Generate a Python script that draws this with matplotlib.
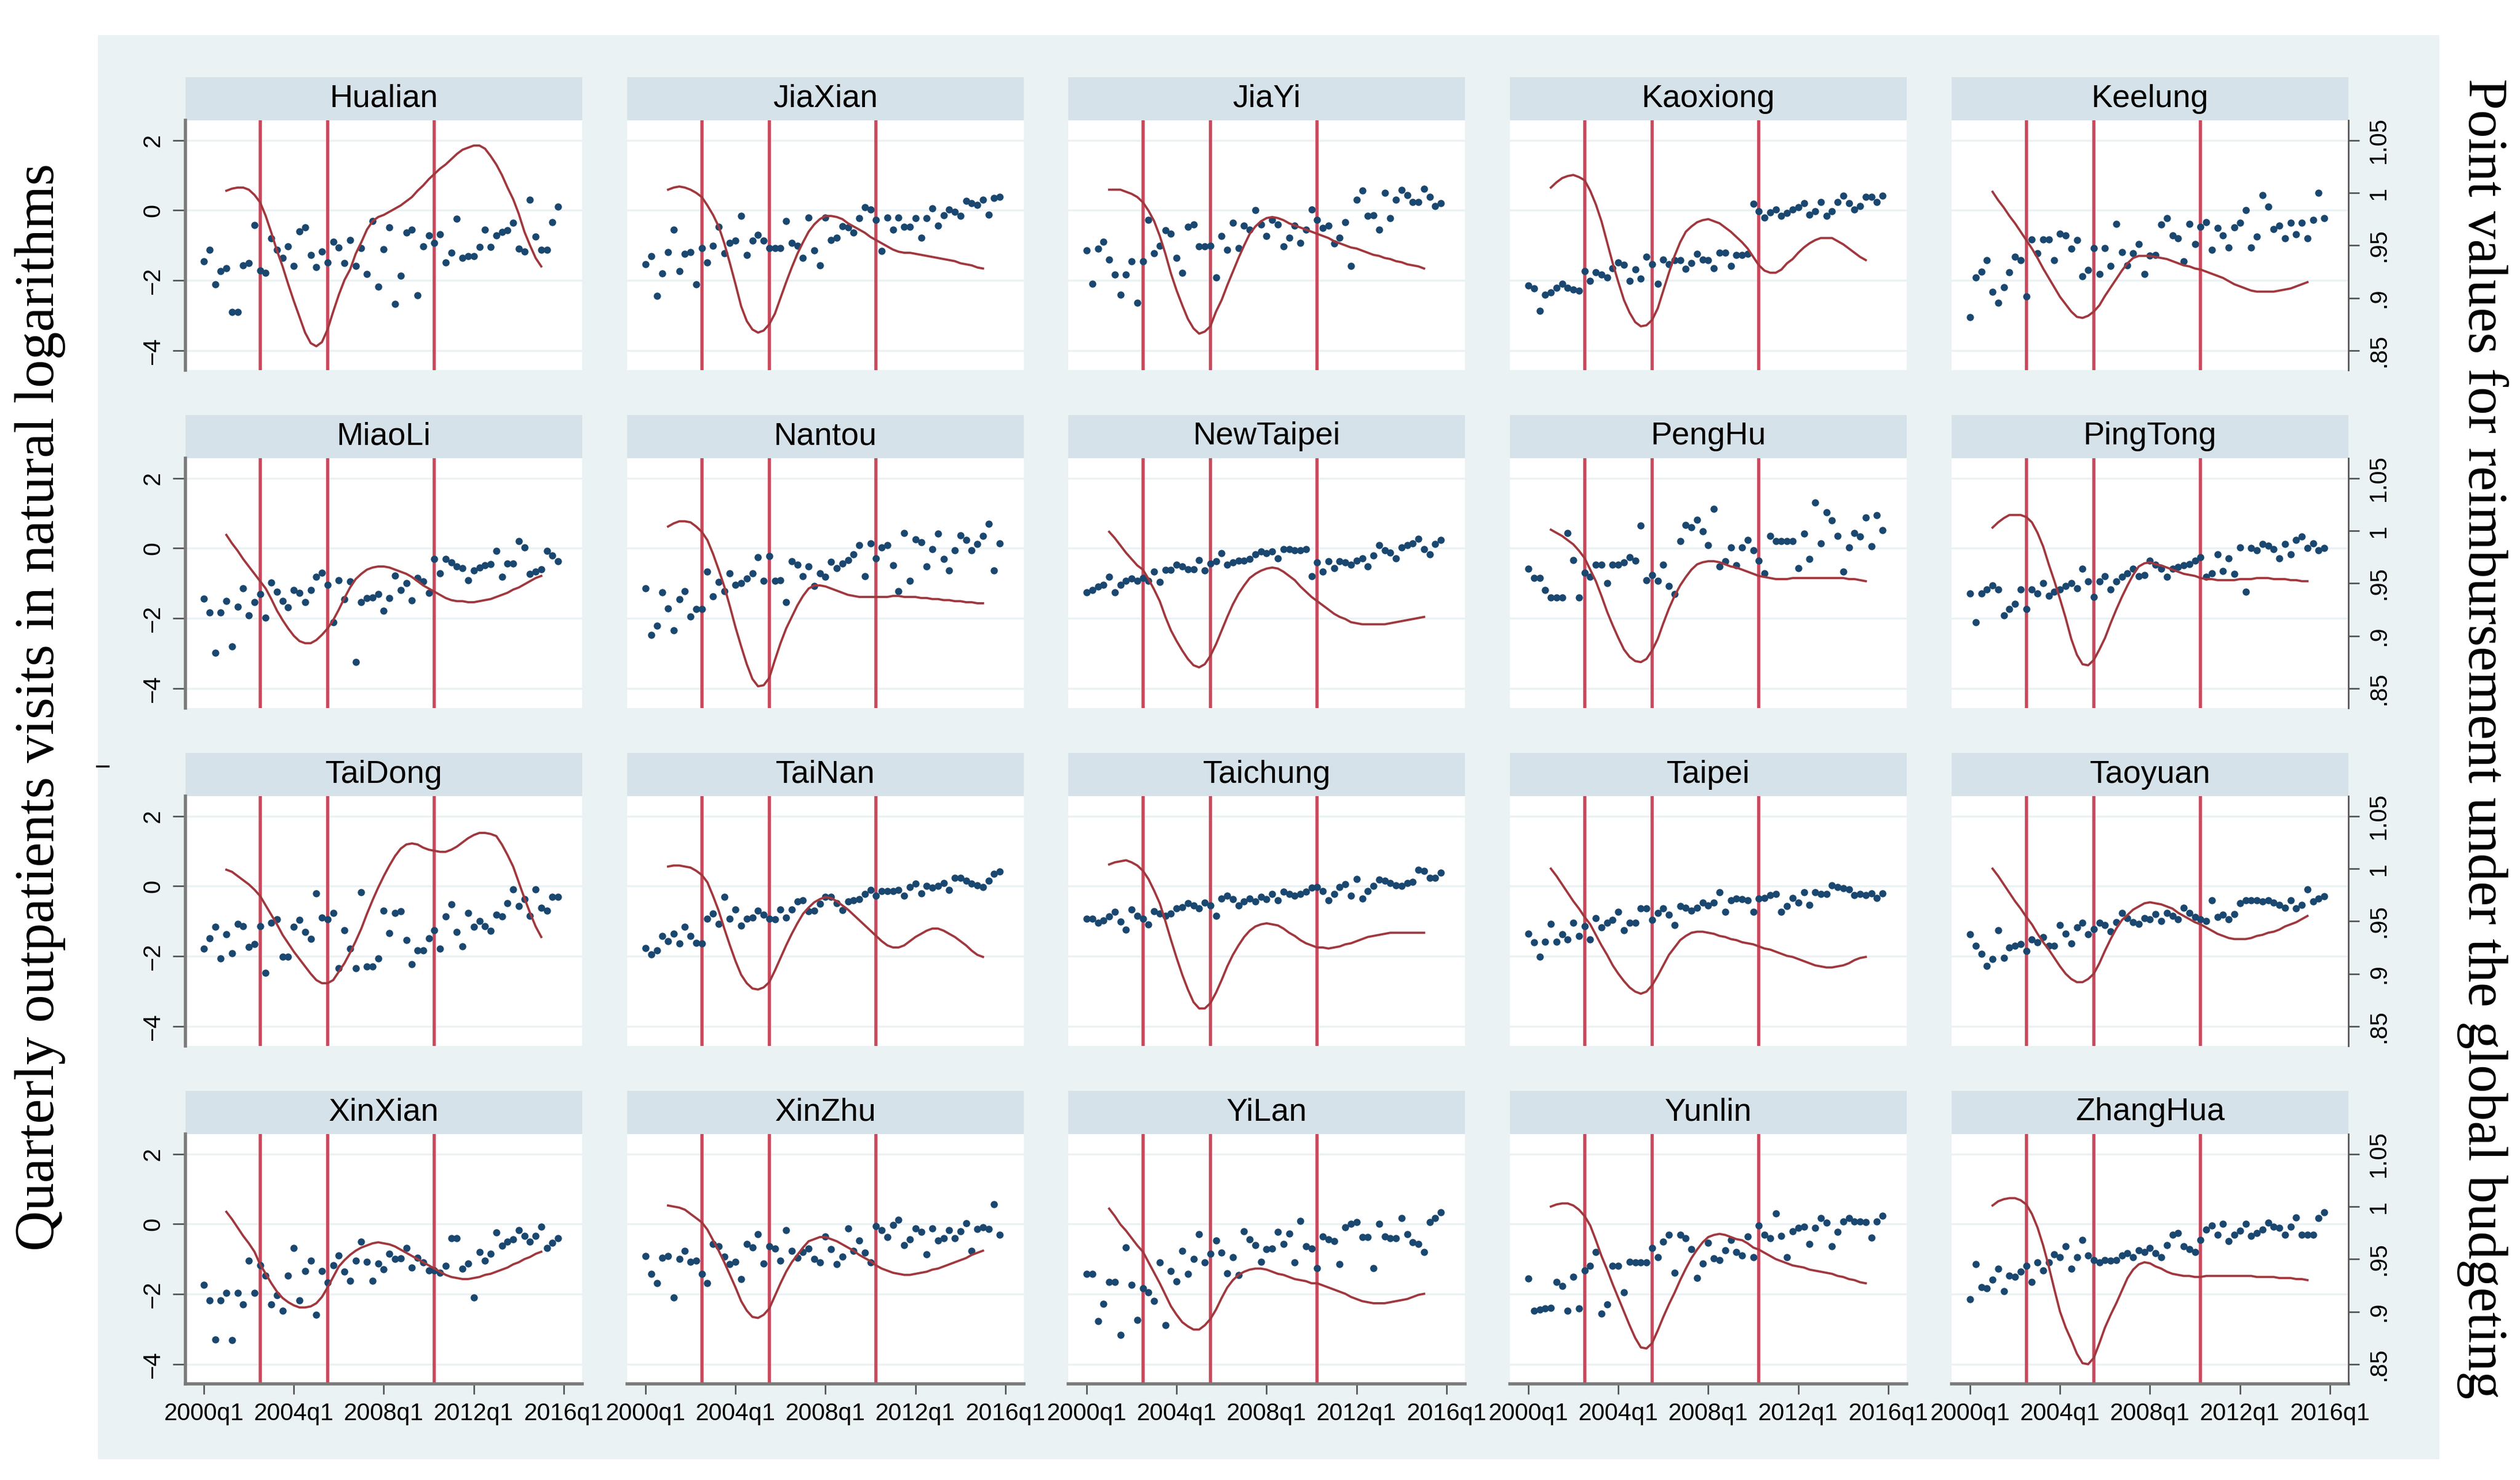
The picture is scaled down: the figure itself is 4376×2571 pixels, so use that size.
import numpy as np
import matplotlib
matplotlib.use("Agg")
import matplotlib.pyplot as plt
from matplotlib.patches import Rectangle
from matplotlib.lines import Line2D

plt.rcParams["font.family"] = ["Liberation Sans", "DejaVu Sans"]
SERIF = ["Liberation Serif", "DejaVu Serif"]

W, H = 4376, 2571

NAVY = "#1a476f"
VLINE = "#c9485b"
CURVE = "#a0383e"
REGION_BG = "#eaf2f3"
STRIP_BG = "#d6e2e9"
GRID = "#eaf2f3"
AXIS = "#7a7a7a"

# reform dates (quarters as fractional years)
reform_dates = [2002.5, 2005.5, 2010.25]
x_ticks = [2000, 2004, 2008, 2012, 2016]
x_labels = ["2000q1", "2004q1", "2008q1", "2012q1", "2016q1"]
left_ticks = [-4, -2, 0, 2]
right_ticks = [0.85, 0.9, 0.95, 1.0, 1.05]
right_labels = [".85", ".9", ".95", "1", "1.05"]

# quarterly outpatient visits (log), 2000q1 .. 2015q4
hualian_visits = [-1.46, -1.12, -2.11, -1.73, -1.65, -2.9, -2.9, -1.57, -1.5, -0.42,
                  -1.71, -1.79, -0.79, -1.12, -1.35, -1.02, -1.58, -0.6, -0.49, -1.28,
                  -1.62, -1.18, -1.48, -0.9, -1.06, -1.51, -0.84, -1.58, -1.07, -1.81,
                  -0.3, -2.17, -1.11, -0.49, -2.67, -1.87, -0.63, -0.55, -2.42, -1.02,
                  -0.72, -0.93, -0.69, -1.48, -1.21, -0.24, -1.35, -1.31, -1.31, -1.04,
                  -0.55, -1.04, -0.72, -0.62, -0.57, -0.36, -1.1, -1.18, 0.31, -0.75,
                  -1.13, -1.13, -0.33, 0.11]
jiaxian_visits = [-1.53, -1.3, -2.44, -1.8, -1.19, -0.55, -1.74, -1.24, -1.19, -2.12,
                  -1.07, -1.48, -1.01, -0.47, -1.22, -0.93, -0.87, -0.16, -1.28, -0.87,
                  -0.7, -0.87, -1.07, -1.07, -1.07, -0.31, -0.93, -1.01, -1.36, -0.2,
                  -1.15, -1.57, -0.2, -0.84, -0.78, -0.45, -0.49, -0.64, -0.23, 0.09,
                  0.03, -0.28, -1.16, -0.2, -0.55, -0.2, -0.47, -0.47, -0.22, -0.78,
                  -0.22, 0.06, -0.43, -0.14, 0.03, -0.05, -0.16, 0.27, 0.21, 0.15,
                  0.3, -0.12, 0.35, 0.38]
jiayi_visits = [-1.15, -2.09, -1.09, -0.9, -1.4, -1.83, -2.41, -1.83, -1.45, -2.64,
                -1.45, -0.28, -1.22, -1.01, -0.57, -0.66, -1.36, -1.79, -0.47, -0.4,
                -1.03, -1.03, -1.01, -1.91, -0.74, -1.13, -0.35, -1.07, -0.43, -0.55,
                0.01, -0.4, -0.74, -0.28, -0.4, -1.03, -0.78, -0.43, -0.93, -0.55,
                0.03, -0.28, -0.51, -0.43, -0.95, -0.78, -0.34, -1.59, 0.3, 0.56,
                -0.16, -0.14, -0.55, 0.5, -0.23, 0.3, 0.58, 0.44, 0.23, 0.23,
                0.62, 0.38, 0.12, 0.21]
kaoxiong_visits = [-2.14, -2.23, -2.87, -2.41, -2.35, -2.21, -2.09, -2.21, -2.26, -2.29,
                   -1.74, -2.02, -1.77, -1.83, -1.91, -1.65, -1.48, -1.56, -2.02, -1.69,
                   -1.94, -1.33, -1.53, -2.09, -1.4, -1.53, -1.42, -1.42, -1.67, -1.51,
                   -1.24, -1.4, -1.42, -1.65, -1.21, -1.21, -1.59, -1.28, -1.28, -1.24,
                   0.19, -0.02, -0.2, -0.06, 0.03, -0.16, -0.08, 0.03, 0.09, 0.21,
                   -0.12, -0.02, 0.23, -0.16, -0.02, 0.23, 0.42, 0.21, 0.03, 0.12,
                   0.38, 0.38, 0.23, 0.42]
keelung_visits = [-3.05, -1.92, -1.75, -1.42, -2.33, -2.63, -2.2, -1.76, -1.32, -1.43,
                  -2.45, -0.83, -1.23, -0.83, -0.83, -1.42, -0.66, -0.72, -1.1, -0.85,
                  -1.89, -1.7, -1.07, -1.81, -1.07, -1.58, -0.39, -1.19, -1.57, -1.23,
                  -0.97, -1.82, -1.29, -1.28, -0.41, -0.22, -0.71, -0.79, -1.45, -0.38,
                  -0.97, -0.47, -0.33, -1.13, -0.5, -0.72, -1.06, -0.49, -0.35, 0.0,
                  -1.06, -0.75, 0.44, 0.11, -0.53, -0.44, -0.79, -0.36, -0.69, -0.35,
                  -0.79, -0.28, 0.5, -0.22]
miaoli_visits = [-1.44, -1.83, -2.99, -1.83, -1.51, -2.81, -1.67, -1.15, -1.92, -1.53,
                 -1.3, -1.98, -0.98, -1.24, -1.51, -1.69, -1.19, -1.28, -1.53, -1.19,
                 -0.81, -0.7, -1.05, -2.12, -0.92, -1.45, -0.95, -3.24, -1.53, -1.42,
                 -1.4, -1.3, -1.79, -1.42, -0.78, -1.19, -0.99, -1.48, -0.84, -0.95,
                 -1.27, -0.31, -0.72, -0.31, -0.4, -0.52, -0.57, -0.92, -0.64, -0.55,
                 -0.49, -0.45, -0.08, -0.81, -0.43, -0.43, 0.21, 0.03, -0.74, -0.66,
                 -0.6, -0.08, -0.2, -0.37]
nantou_visits = [-1.14, -2.47, -2.21, -1.26, -1.72, -2.35, -1.45, -1.22, -1.95, -1.74,
                 -1.74, -0.67, -1.37, -0.97, -1.22, -0.72, -1.05, -0.99, -0.87, -0.72,
                 -0.26, -0.93, -0.23, -0.93, -0.91, -1.53, -0.37, -0.47, -0.79, -0.52,
                 -1.07, -0.72, -0.81, -0.38, -0.56, -0.44, -0.33, -0.17, 0.09, -0.79,
                 0.14, -0.29, 0.02, 0.09, -0.49, -1.22, 0.44, -0.93, 0.26, 0.17,
                 -0.52, -0.03, 0.41, -0.31, -0.64, -0.06, 0.37, 0.23, -0.06, 0.12,
                 0.35, 0.7, -0.64, 0.14]
newtaipei_visits = [-1.26, -1.19, -1.1, -1.05, -0.81, -1.26, -1.05, -0.93, -0.87, -0.93,
                    -0.84, -0.93, -0.66, -0.97, -0.62, -0.62, -0.47, -0.52, -0.6, -0.6,
                    -0.33, -0.64, -0.43, -0.37, -0.14, -0.47, -0.41, -0.35, -0.35, -0.31,
                    -0.17, -0.09, -0.14, -0.09, -0.29, -0.02, -0.02, -0.06, -0.06, -0.02,
                    -0.79, -0.41, -0.67, -0.37, -0.56, -0.37, -0.41, -0.47, -0.35, -0.29,
                    -0.52, -0.21, 0.09, -0.06, -0.12, -0.29, 0.02, 0.09, 0.14, 0.27,
                    -0.02, -0.17, 0.12, 0.23]
penghu_visits = [-0.58, -0.84, -0.84, -1.19, -1.4, -1.4, -1.4, 0.44, -0.33, -1.4,
                 -0.7, -0.81, -0.47, -0.47, -0.99, -0.47, -0.47, -0.41, -0.26, -0.35,
                 0.64, -0.91, -0.76, -0.93, -0.47, -1.07, -1.3, 0.21, 0.67, 0.6,
                 0.81, 0.49, 0.09, 1.13, -0.52, -0.37, 0.02, -0.49, 0.03, 0.23,
                 -0.06, -0.35, -0.72, 0.35, 0.21, 0.21, 0.21, 0.21, -0.56, 0.41,
                 -0.31, 1.3, 0.14, 1.02, 0.79, 0.35, -0.67, 0.02, 0.44, 0.33,
                 0.87, 0.06, 0.95, 0.52]
pingtong_visits = [-1.29, -2.12, -1.29, -1.18, -1.06, -1.18, -1.91, -1.74, -1.59, -1.18,
                   -1.73, -1.18, -1.29, -1.0, -1.35, -1.24, -1.18, -1.08, -1.0, -1.15,
                   -0.59, -0.94, -1.39, -0.94, -0.8, -1.18, -0.94, -0.82, -0.71, -0.59,
                   -0.8, -0.76, -0.35, -0.47, -0.59, -0.82, -0.59, -0.53, -0.49, -0.45,
                   -0.35, -0.26, -0.82, -0.71, -0.18, -0.65, -0.29, -0.73, 0.02, -1.24,
                   0.0, -0.06, 0.12, 0.08, -0.02, -0.29, 0.12, -0.18, 0.24, 0.33,
                   0.0, 0.14, -0.06, 0.0]
taidong_visits = [-1.78, -1.48, -1.16, -2.07, -1.37, -1.92, -1.07, -1.14, -1.74, -1.65,
                  -1.14, -2.47, -1.05, -0.95, -2.02, -2.02, -1.16, -0.97, -1.3, -1.51,
                  -0.2, -0.9, -0.95, -0.76, -2.35, -1.26, -1.78, -2.35, -0.17, -2.3,
                  -2.3, -2.07, -0.7, -1.34, -0.76, -0.72, -1.53, -2.23, -1.83, -1.83,
                  -1.49, -1.26, -1.78, -0.87, -0.52, -1.31, -1.71, -0.76, -1.16, -0.99,
                  -1.14, -1.28, -0.81, -0.87, -0.49, -0.09, -0.56, -0.37, -0.84, -0.09,
                  -0.62, -0.7, -0.31, -0.31]
tainan_visits = [-1.77, -1.94, -1.83, -1.42, -1.57, -1.36, -1.63, -1.16, -1.42, -1.62,
                 -1.63, -0.93, -0.78, -1.07, -0.31, -0.93, -0.66, -1.13, -0.93, -0.9,
                 -0.7, -0.81, -0.93, -0.95, -0.66, -0.9, -0.66, -0.43, -0.41, -0.72,
                 -0.7, -0.51, -0.31, -0.31, -0.49, -0.69, -0.43, -0.4, -0.37, -0.22,
                 -0.1, -0.28, -0.14, -0.14, -0.14, -0.1, -0.28, -0.02, 0.07, -0.2,
                 0.0, -0.05, 0.01, 0.09, -0.1, 0.23, 0.23, 0.15, 0.07, 0.03,
                 -0.02, 0.15, 0.35, 0.41]
taichung_visits = [-0.93, -0.93, -1.05, -0.98, -0.86, -0.74, -1.01, -1.24, -0.66, -0.84,
                   -0.93, -1.09, -0.72, -0.78, -0.84, -0.78, -0.63, -0.6, -0.49, -0.55,
                   -0.63, -0.47, -0.55, -0.84, -0.35, -0.28, -0.37, -0.55, -0.43, -0.35,
                   -0.43, -0.31, -0.37, -0.23, -0.4, -0.16, -0.23, -0.28, -0.23, -0.16,
                   -0.05, -0.02, -0.14, -0.4, -0.23, -0.02, 0.06, -0.28, 0.21, -0.35,
                   -0.14, 0.0, 0.19, 0.15, 0.09, 0.03, 0.01, 0.09, 0.12, 0.47,
                   0.44, 0.23, 0.23, 0.38]
taipei_visits = [-1.35, -1.61, -2.01, -1.58, -1.08, -1.58, -1.38, -1.52, -1.05, -1.43,
                 -1.15, -1.52, -0.91, -1.17, -1.05, -0.96, -0.73, -1.26, -1.05, -1.05,
                 -0.64, -0.64, -0.96, -0.76, -0.64, -0.82, -1.11, -0.56, -0.61, -0.7,
                 -0.61, -0.47, -0.55, -0.47, -0.18, -0.73, -0.41, -0.35, -0.37, -0.41,
                 -0.73, -0.35, -0.33, -0.26, -0.23, -0.73, -0.56, -0.33, -0.47, -0.18,
                 -0.53, -0.18, -0.23, -0.23, 0.02, -0.02, -0.06, -0.09, -0.26, -0.23,
                 -0.26, -0.21, -0.33, -0.21]
taoyuan_visits = [-1.38, -1.7, -1.93, -2.28, -2.08, -1.26, -2.05, -1.75, -1.7, -1.66,
                  -1.85, -1.52, -1.61, -1.46, -1.7, -1.7, -1.11, -1.35, -1.64, -1.17,
                  -1.05, -1.38, -1.23, -1.05, -1.11, -1.29, -1.03, -0.76, -0.91, -1.03,
                  -1.08, -0.91, -0.94, -0.8, -0.99, -0.76, -0.84, -0.94, -0.61, -0.76,
                  -0.88, -0.94, -0.99, -0.41, -0.88, -0.82, -0.94, -0.8, -0.49, -0.41,
                  -0.41, -0.41, -0.44, -0.41, -0.47, -0.53, -0.61, -0.41, -0.64, -0.53,
                  -0.09, -0.44, -0.35, -0.29]
xinxian_visits = [-1.73, -2.18, -3.29, -2.18, -1.97, -3.31, -1.97, -2.29, -1.04, -1.97,
                  -1.17, -1.47, -2.29, -2.03, -2.48, -1.47, -0.68, -2.18, -1.34, -1.05,
                  -2.59, -1.34, -1.67, -1.17, -0.89, -1.35, -1.62, -1.05, -0.51, -1.07,
                  -1.62, -1.13, -1.29, -0.84, -0.99, -0.98, -0.69, -1.24, -0.96, -1.09,
                  -1.32, -1.32, -1.39, -1.2, -0.41, -0.41, -1.28, -1.13, -2.09, -0.79,
                  -1.04, -0.84, -0.24, -0.62, -0.51, -0.44, -0.17, -0.34, -0.51, -0.34,
                  -0.08, -0.68, -0.54, -0.41]
xinzhu_visits = [-0.91, -1.43, -1.69, -0.97, -0.91, -2.09, -0.99, -0.76, -1.07, -1.05,
                 -1.42, -1.69, -0.56, -0.64, -0.93, -1.14, -1.07, -1.57, -0.56, -0.67,
                 -0.29, -1.13, -0.64, -0.7, -1.05, -0.17, -0.76, -0.97, -0.79, -0.7,
                 -0.99, -1.1, -0.35, -0.72, -1.14, -0.93, -0.12, -0.76, -0.47, -0.81,
                 -1.1, -0.06, -0.17, -0.37, -0.03, 0.12, -0.6, -0.44, -0.12, -0.23,
                 -0.87, -0.12, -0.47, -0.41, -0.17, -0.41, -0.21, 0.02, -0.76, -0.14,
                 -0.09, -0.14, 0.56, -0.31]
yilan_visits = [-1.42, -1.42, -2.77, -2.27, -1.65, -1.65, -3.16, -0.66, -1.74, -2.73,
                -1.84, -1.95, -2.19, -1.1, -2.88, -1.34, -1.63, -0.76, -1.42, -0.99,
                -0.29, -1.1, -0.84, -0.47, -0.81, -1.4, -0.95, -1.45, -0.21, -0.44,
                -0.6, -1.07, -0.72, -0.7, -0.23, -0.56, -0.27, -1.1, 0.09, -0.64,
                -0.7, -1.26, -0.35, -0.44, -0.49, -1.14, -0.09, 0.0, 0.06, -0.37,
                -0.37, -1.26, 0.0, -0.35, -0.41, -0.41, 0.17, -0.29, -0.52, -0.56,
                -0.79, 0.06, 0.17, 0.33]
yunlin_visits = [-1.56, -2.48, -2.44, -2.4, -2.39, -1.65, -1.77, -2.47, -1.5, -2.41,
                 -1.32, -1.2, -0.79, -2.56, -2.29, -1.2, -1.2, -1.95, -1.07, -1.1,
                 -1.09, -1.09, -0.68, -0.94, -0.5, -0.3, -1.39, -0.3, -0.41, -0.71,
                 -1.54, -1.13, -0.53, -0.98, -1.02, -0.75, -0.45, -0.79, -0.9, -0.35,
                 -0.94, -0.04, -0.3, -0.41, 0.3, -0.34, -0.94, -0.2, -0.11, -0.08,
                 -0.56, -0.1, 0.17, 0.04, -0.64, -0.23, 0.08, 0.17, 0.08, 0.08,
                 0.05, -0.38, 0.08, 0.23]
zhanghua_visits = [-2.14, -1.14, -1.8, -1.84, -1.58, -1.28, -1.92, -1.47, -1.5, -1.35,
                   -1.2, -1.65, -1.09, -1.32, -1.09, -0.86, -0.94, -0.64, -1.28, -0.94,
                   -0.45, -0.89, -1.02, -1.09, -1.02, -1.05, -1.02, -0.9, -0.83, -0.94,
                   -0.75, -0.79, -0.68, -0.83, -0.94, -0.6, -0.3, -0.26, -0.64, -0.71,
                   -0.79, -0.45, -0.15, -0.04, -0.3, 0.0, -0.49, -0.3, -0.19, 0.0,
                   -0.34, -0.26, -0.15, 0.04, -0.08, -0.11, -0.3, -0.08, 0.19, -0.3,
                   -0.3, -0.3, 0.17, 0.34]

# point values under global budgeting, smoothed, 2001q1 .. 2015q1
hualian_points = [1.002, 1.004, 1.005, 1.005, 1.003, 0.998, 0.991, 0.978, 0.962, 0.945,
                  0.930, 0.913, 0.897, 0.882, 0.867, 0.857, 0.854, 0.858, 0.870, 0.887,
                  0.903, 0.917, 0.927, 0.942, 0.953, 0.965, 0.973, 0.977, 0.979, 0.982,
                  0.985, 0.988, 0.992, 0.996, 1.002, 1.007, 1.013, 1.018, 1.023, 1.027,
                  1.032, 1.037, 1.041, 1.043, 1.045, 1.045, 1.042, 1.035, 1.027, 1.017,
                  1.005, 0.994, 0.980, 0.963, 0.950, 0.938, 0.930]
jiaxian_points = [1.003, 1.005, 1.006, 1.005, 1.003, 1.000, 0.996, 0.988, 0.979, 0.968,
                  0.952, 0.933, 0.913, 0.892, 0.878, 0.870, 0.867, 0.869, 0.875, 0.885,
                  0.900, 0.915, 0.929, 0.942, 0.953, 0.963, 0.970, 0.975, 0.978, 0.978,
                  0.977, 0.975, 0.971, 0.968, 0.965, 0.962, 0.958, 0.955, 0.952, 0.949,
                  0.946, 0.944, 0.943, 0.943, 0.942, 0.941, 0.940, 0.939, 0.938, 0.937,
                  0.936, 0.935, 0.933, 0.932, 0.931, 0.929, 0.928]
jiayi_points = [1.003, 1.003, 1.003, 1.001, 0.999, 0.996, 0.991, 0.983, 0.973, 0.959,
                0.942, 0.923, 0.907, 0.893, 0.880, 0.871, 0.866, 0.868, 0.873, 0.887,
                0.898, 0.912, 0.925, 0.938, 0.950, 0.961, 0.968, 0.973, 0.976, 0.977,
                0.976, 0.974, 0.971, 0.969, 0.967, 0.965, 0.963, 0.961, 0.959, 0.957,
                0.954, 0.952, 0.950, 0.948, 0.947, 0.945, 0.943, 0.941, 0.940, 0.938,
                0.937, 0.935, 0.934, 0.932, 0.931, 0.930, 0.928]
kaoxiong_points = [1.005, 1.010, 1.014, 1.016, 1.017, 1.015, 1.012, 1.002, 0.989, 0.973,
                   0.953, 0.933, 0.915, 0.898, 0.886, 0.877, 0.873, 0.874, 0.879, 0.890,
                   0.907, 0.924, 0.940, 0.953, 0.963, 0.968, 0.972, 0.974, 0.975, 0.973,
                   0.971, 0.967, 0.963, 0.958, 0.953, 0.947, 0.939, 0.931, 0.926, 0.924,
                   0.924, 0.927, 0.933, 0.937, 0.943, 0.948, 0.952, 0.955, 0.957, 0.957,
                   0.957, 0.954, 0.951, 0.947, 0.943, 0.939, 0.936]
keelung_points = [1.001, 0.993, 0.986, 0.978, 0.971, 0.963, 0.955, 0.947, 0.938, 0.928,
                  0.919, 0.910, 0.901, 0.894, 0.887, 0.882, 0.881, 0.883, 0.887, 0.893,
                  0.902, 0.910, 0.918, 0.926, 0.933, 0.938, 0.940, 0.940, 0.940, 0.939,
                  0.938, 0.937, 0.935, 0.933, 0.931, 0.930, 0.928, 0.927, 0.925, 0.923,
                  0.921, 0.919, 0.916, 0.913, 0.911, 0.909, 0.907, 0.906, 0.906, 0.906,
                  0.906, 0.907, 0.908, 0.909, 0.911, 0.913, 0.915]
miaoli_points = [0.996, 0.988, 0.981, 0.973, 0.966, 0.959, 0.952, 0.945, 0.935, 0.924,
                 0.915, 0.907, 0.900, 0.895, 0.893, 0.893, 0.896, 0.901, 0.907, 0.915,
                 0.925, 0.936, 0.946, 0.954, 0.959, 0.963, 0.965, 0.966, 0.966, 0.965,
                 0.963, 0.961, 0.959, 0.956, 0.952, 0.948, 0.945, 0.942, 0.939, 0.936,
                 0.934, 0.933, 0.933, 0.932, 0.932, 0.933, 0.934, 0.935, 0.937, 0.939,
                 0.941, 0.944, 0.946, 0.949, 0.952, 0.955, 0.957]
nantou_points = [1.004, 1.007, 1.009, 1.009, 1.008, 1.004, 0.999, 0.991, 0.978, 0.963,
                 0.947, 0.928, 0.908, 0.890, 0.873, 0.859, 0.852, 0.853, 0.860, 0.877,
                 0.893, 0.907, 0.918, 0.929, 0.938, 0.945, 0.948, 0.948, 0.947, 0.945,
                 0.943, 0.941, 0.939, 0.938, 0.937, 0.937, 0.937, 0.937, 0.937, 0.937,
                 0.938, 0.938, 0.937, 0.937, 0.937, 0.936, 0.936, 0.935, 0.935, 0.934,
                 0.934, 0.933, 0.933, 0.932, 0.932, 0.931, 0.931]
newtaipei_points = [0.999, 0.993, 0.986, 0.979, 0.973, 0.967, 0.963, 0.954, 0.944, 0.933,
                    0.918, 0.905, 0.895, 0.886, 0.878, 0.872, 0.870, 0.873, 0.881, 0.892,
                    0.905, 0.918, 0.930, 0.940, 0.948, 0.955, 0.959, 0.962, 0.964, 0.965,
                    0.964, 0.961, 0.957, 0.953, 0.947, 0.942, 0.937, 0.933, 0.929, 0.925,
                    0.921, 0.918, 0.916, 0.913, 0.912, 0.911, 0.911, 0.911, 0.911, 0.911,
                    0.912, 0.913, 0.914, 0.915, 0.916, 0.917, 0.918]
penghu_points = [1.001, 0.998, 0.995, 0.991, 0.987, 0.981, 0.974, 0.963, 0.952, 0.938,
                 0.923, 0.910, 0.898, 0.887, 0.880, 0.876, 0.875, 0.878, 0.886, 0.897,
                 0.912, 0.926, 0.938, 0.948, 0.956, 0.963, 0.968, 0.970, 0.971, 0.971,
                 0.970, 0.968, 0.966, 0.965, 0.963, 0.961, 0.959, 0.957, 0.956, 0.955,
                 0.954, 0.954, 0.954, 0.955, 0.955, 0.955, 0.955, 0.955, 0.955, 0.955,
                 0.955, 0.955, 0.955, 0.954, 0.954, 0.953, 0.952]
pingtong_points = [1.003, 1.008, 1.012, 1.015, 1.015, 1.015, 1.013, 1.008, 0.998, 0.985,
                   0.968, 0.952, 0.935, 0.917, 0.897, 0.882, 0.873, 0.872, 0.877, 0.887,
                   0.898, 0.912, 0.925, 0.937, 0.948, 0.958, 0.966, 0.969, 0.970, 0.968,
                   0.967, 0.965, 0.963, 0.961, 0.959, 0.958, 0.957, 0.955, 0.954, 0.954,
                   0.953, 0.953, 0.953, 0.953, 0.954, 0.954, 0.954, 0.955, 0.955, 0.955,
                   0.954, 0.954, 0.954, 0.953, 0.953, 0.952, 0.952]
taidong_points = [0.999, 0.997, 0.993, 0.989, 0.985, 0.980, 0.974, 0.965, 0.956, 0.947,
                  0.937, 0.929, 0.921, 0.914, 0.907, 0.900, 0.894, 0.891, 0.891, 0.894,
                  0.902, 0.910, 0.920, 0.931, 0.943, 0.957, 0.970, 0.982, 0.993, 1.003,
                  1.012, 1.019, 1.023, 1.024, 1.023, 1.020, 1.018, 1.017, 1.016, 1.016,
                  1.018, 1.021, 1.025, 1.029, 1.032, 1.034, 1.034, 1.033, 1.031, 1.023,
                  1.013, 1.002, 0.987, 0.972, 0.958, 0.945, 0.935]
tainan_points = [1.002, 1.003, 1.003, 1.002, 1.001, 0.998, 0.994, 0.987, 0.974, 0.960,
                 0.943, 0.927, 0.912, 0.899, 0.891, 0.886, 0.885, 0.887, 0.892, 0.903,
                 0.915, 0.927, 0.938, 0.948, 0.957, 0.963, 0.968, 0.971, 0.973, 0.972,
                 0.969, 0.965, 0.961, 0.956, 0.951, 0.946, 0.941, 0.936, 0.931, 0.927,
                 0.925, 0.925, 0.927, 0.931, 0.935, 0.938, 0.941, 0.943, 0.943, 0.941,
                 0.938, 0.935, 0.931, 0.927, 0.922, 0.918, 0.916]
taichung_points = [1.004, 1.006, 1.007, 1.008, 1.006, 1.003, 0.998, 0.990, 0.979, 0.967,
                   0.950, 0.932, 0.915, 0.899, 0.885, 0.873, 0.867, 0.867, 0.872, 0.882,
                   0.894, 0.907, 0.918, 0.927, 0.935, 0.941, 0.945, 0.947, 0.948, 0.947,
                   0.946, 0.943, 0.939, 0.936, 0.932, 0.929, 0.927, 0.925, 0.925, 0.924,
                   0.925, 0.926, 0.928, 0.929, 0.931, 0.933, 0.935, 0.936, 0.937, 0.938,
                   0.939, 0.939, 0.939, 0.939, 0.939, 0.939, 0.939]
taipei_points = [1.000, 0.993, 0.985, 0.977, 0.969, 0.962, 0.954, 0.947, 0.937, 0.927,
                 0.918, 0.908, 0.900, 0.893, 0.887, 0.883, 0.881, 0.883, 0.889, 0.898,
                 0.908, 0.918, 0.925, 0.932, 0.936, 0.939, 0.940, 0.940, 0.939, 0.938,
                 0.936, 0.935, 0.933, 0.932, 0.930, 0.929, 0.928, 0.926, 0.924, 0.923,
                 0.921, 0.919, 0.917, 0.916, 0.914, 0.912, 0.910, 0.908, 0.907, 0.906,
                 0.906, 0.907, 0.908, 0.910, 0.913, 0.915, 0.916]
taoyuan_points = [1.000, 0.993, 0.985, 0.977, 0.969, 0.962, 0.954, 0.947, 0.938, 0.930,
                  0.923, 0.915, 0.907, 0.900, 0.895, 0.892, 0.892, 0.895, 0.900, 0.910,
                  0.922, 0.933, 0.943, 0.951, 0.956, 0.961, 0.964, 0.967, 0.968, 0.967,
                  0.966, 0.964, 0.962, 0.958, 0.955, 0.952, 0.949, 0.947, 0.944, 0.941,
                  0.938, 0.936, 0.934, 0.933, 0.933, 0.933, 0.934, 0.936, 0.937, 0.939,
                  0.940, 0.942, 0.945, 0.947, 0.949, 0.952, 0.955]
xinxian_points = [0.995, 0.988, 0.980, 0.972, 0.965, 0.957, 0.945, 0.936, 0.927, 0.919,
                  0.913, 0.909, 0.906, 0.904, 0.904, 0.905, 0.908, 0.914, 0.923, 0.933,
                  0.943, 0.949, 0.954, 0.958, 0.961, 0.963, 0.965, 0.966, 0.965, 0.964,
                  0.962, 0.959, 0.956, 0.953, 0.950, 0.947, 0.944, 0.941, 0.938, 0.935,
                  0.933, 0.932, 0.931, 0.931, 0.932, 0.933, 0.935, 0.936, 0.938, 0.940,
                  0.942, 0.945, 0.947, 0.950, 0.952, 0.955, 0.957]
xinzhu_points = [1.001, 1.000, 0.999, 0.997, 0.993, 0.989, 0.985, 0.978, 0.968, 0.958,
                 0.947, 0.935, 0.923, 0.910, 0.901, 0.895, 0.894, 0.897, 0.903, 0.915,
                 0.927, 0.938, 0.947, 0.954, 0.961, 0.967, 0.969, 0.971, 0.971, 0.969,
                 0.967, 0.964, 0.961, 0.958, 0.954, 0.951, 0.948, 0.944, 0.941, 0.939,
                 0.937, 0.936, 0.935, 0.935, 0.936, 0.937, 0.938, 0.940, 0.941, 0.943,
                 0.945, 0.947, 0.949, 0.951, 0.954, 0.956, 0.958]
yilan_points = [0.998, 0.991, 0.983, 0.977, 0.970, 0.963, 0.957, 0.947, 0.937, 0.927,
                0.916, 0.905, 0.897, 0.890, 0.886, 0.883, 0.883, 0.887, 0.893, 0.902,
                0.913, 0.923, 0.930, 0.935, 0.938, 0.940, 0.941, 0.941, 0.940, 0.938,
                0.936, 0.935, 0.933, 0.931, 0.930, 0.929, 0.927, 0.927, 0.925, 0.923,
                0.921, 0.919, 0.917, 0.914, 0.912, 0.910, 0.909, 0.908, 0.908, 0.908,
                0.909, 0.910, 0.911, 0.912, 0.914, 0.916, 0.917]
yunlin_points = [1.000, 1.002, 1.003, 1.003, 1.001, 0.997, 0.991, 0.982, 0.968, 0.953,
                 0.940, 0.926, 0.913, 0.900, 0.887, 0.875, 0.866, 0.865, 0.870, 0.882,
                 0.895, 0.907, 0.918, 0.930, 0.941, 0.951, 0.959, 0.966, 0.971, 0.973,
                 0.974, 0.973, 0.971, 0.969, 0.968, 0.965, 0.961, 0.959, 0.956, 0.953,
                 0.950, 0.948, 0.946, 0.944, 0.943, 0.942, 0.940, 0.939, 0.938, 0.937,
                 0.936, 0.934, 0.933, 0.931, 0.930, 0.928, 0.927]
zhanghua_points = [1.001, 1.005, 1.007, 1.008, 1.008, 1.006, 1.002, 0.993, 0.980, 0.963,
                   0.943, 0.921, 0.900, 0.885, 0.873, 0.860, 0.851, 0.850, 0.856, 0.870,
                   0.885, 0.897, 0.908, 0.920, 0.932, 0.940, 0.945, 0.947, 0.946, 0.943,
                   0.941, 0.938, 0.936, 0.935, 0.934, 0.934, 0.933, 0.933, 0.934, 0.934,
                   0.934, 0.934, 0.934, 0.934, 0.934, 0.934, 0.934, 0.933, 0.933, 0.933,
                   0.933, 0.932, 0.932, 0.932, 0.931, 0.931, 0.930]

panels = [
    ("Hualian", hualian_visits, hualian_points),
    ("JiaXian", jiaxian_visits, jiaxian_points),
    ("JiaYi", jiayi_visits, jiayi_points),
    ("Kaoxiong", kaoxiong_visits, kaoxiong_points),
    ("Keelung", keelung_visits, keelung_points),
    ("MiaoLi", miaoli_visits, miaoli_points),
    ("Nantou", nantou_visits, nantou_points),
    ("NewTaipei", newtaipei_visits, newtaipei_points),
    ("PengHu", penghu_visits, penghu_points),
    ("PingTong", pingtong_visits, pingtong_points),
    ("TaiDong", taidong_visits, taidong_points),
    ("TaiNan", tainan_visits, tainan_points),
    ("Taichung", taichung_visits, taichung_points),
    ("Taipei", taipei_visits, taipei_points),
    ("Taoyuan", taoyuan_visits, taoyuan_points),
    ("XinXian", xinxian_visits, xinxian_points),
    ("XinZhu", xinzhu_visits, xinzhu_points),
    ("YiLan", yilan_visits, yilan_points),
    ("Yunlin", yunlin_visits, yunlin_points),
    ("ZhangHua", zhanghua_visits, zhanghua_points),
]

fig = plt.figure(figsize=(W / 100, H / 100), dpi=100)
fig.patch.set_facecolor("white")

# light graph region behind the panels
fig.add_artist(Rectangle((170 / W, 1 - 2535 / H), (4236 - 170) / W, (2535 - 61) / H,
                         transform=fig.transFigure, fc=REGION_BG, ec="none", zorder=0))

col_left = [322, 1089, 1855, 2622, 3389]
row_top = [209, 796, 1383, 1970]
pw, ph = 689, 434
strip_h = 75

for k, (name, visits, points) in enumerate(panels):
    r, c = divmod(k, 5)
    ax = fig.add_axes([col_left[c] / W, 1 - (row_top[r] + ph) / H, pw / W, ph / H])
    ax.set_facecolor("white")
    ax.set_xlim(1999.18, 2016.82)
    ax.set_ylim(-4.56, 2.57)
    ax.set_yticks(left_ticks)
    ax.set_axisbelow(True)
    ax.yaxis.grid(True, color=GRID, lw=2.5)

    for d in reform_dates:
        ax.axvline(d, color=VLINE, lw=4, zorder=2)

    t_obs = 2000 + np.arange(len(visits)) / 4
    ax.plot(t_obs, visits, "o", ms=9, color=NAVY, mec="none", zorder=3)

    ax2 = ax.twinx()
    ax2.set_ylim(0.8313, 1.069)
    t_fit = 2001 + np.arange(len(points)) / 4
    ax2.plot(t_fit, points, color=CURVE, lw=2.8, zorder=4)

    for sp in list(ax.spines.values()) + list(ax2.spines.values()):
        sp.set_visible(False)

    if c == 0:
        ax.spines["left"].set_visible(True)
        ax.spines["left"].set_color(AXIS)
        ax.spines["left"].set_linewidth(4)
        ax.tick_params(axis="y", length=16, width=2, color="#555555",
                       labelsize=30, pad=10, labelrotation=90)
        for lab in ax.get_yticklabels():
            lab.set_va("center")
    else:
        ax.tick_params(axis="y", left=False, labelleft=False)

    ax.set_xticks(x_ticks)
    if r == 3:
        ax.spines["bottom"].set_visible(True)
        ax.spines["bottom"].set_color(AXIS)
        ax.spines["bottom"].set_linewidth(4)
        ax.set_xticklabels(x_labels)
        ax.tick_params(axis="x", length=13, width=2, color="#555555",
                       labelsize=30, pad=10)
    else:
        ax.tick_params(axis="x", bottom=False, labelbottom=False)

    if c == 4:
        ax2.spines["right"].set_visible(True)
        ax2.spines["right"].set_color("#555555")
        ax2.spines["right"].set_linewidth(2)
        ax2.set_yticks(right_ticks)
        ax2.set_yticklabels(right_labels)
        ax2.tick_params(axis="y", length=14, width=2, color="#555555",
                        labelsize=30, pad=10, labelrotation=90)
        for lab in ax2.get_yticklabels():
            lab.set_va("center")
    else:
        ax2.set_yticks([])

    # facet title strip
    ax.add_patch(Rectangle((0, 1), 1, strip_h / ph, transform=ax.transAxes,
                           fc=STRIP_BG, ec="none", clip_on=False))
    ax.text(0.5, 1 + strip_h / ph / 2, name, transform=ax.transAxes,
            ha="center", va="center", fontsize=40)

fig.text(70 / W, 1 - 1228 / H, "Quarterly outpatients visits in natural logarithms",
         rotation=90, ha="center", va="center", fontsize=70, family=SERIF)
fig.text(4311 / W, 1 - 1283 / H, "Point values for reimbursement under the global budgeting",
         rotation=270, ha="center", va="center", fontsize=70, family=SERIF)

# stray tick mark at the left edge of the graph region
fig.add_artist(Line2D([168 / W, 188 / W], [1 - 1331 / H, 1 - 1331 / H],
                      color="black", lw=2.5, transform=fig.transFigure))

fig.savefig("out.png", dpi=100, facecolor="white")
